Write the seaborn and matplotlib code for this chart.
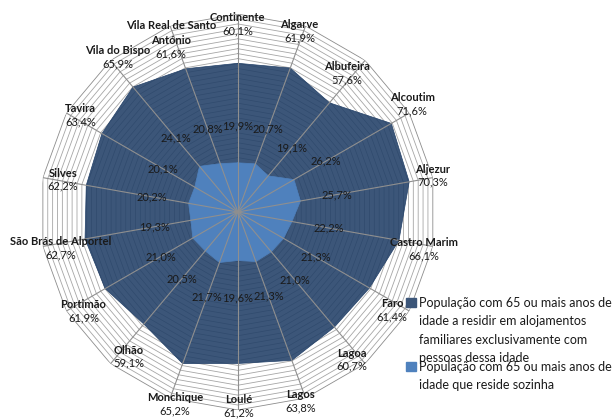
import numpy as np
import seaborn as sns
import matplotlib.pyplot as plt
from matplotlib.patches import Rectangle

# categorias (sentido dos ponteiros do relógio, a partir do topo)
categorias = ['Continente', 'Algarve', 'Albufeira', 'Alcoutim', 'Aljezur', 'Castro Marim',
              'Faro', 'Lagoa', 'Lagos', 'Loulé', 'Monchique', 'Olhão', 'Portimão',
              'São Brás de Alportel', 'Silves', 'Tavira', 'Vila do Bispo',
              'Vila Real de Santo\nAntónio']

# população com 65+ em alojamentos só com pessoas dessa idade (%)
so_idosos = [60.1, 61.9, 57.6, 71.6, 70.3, 66.1, 61.4, 60.7, 63.8, 61.2,
             65.2, 59.1, 61.9, 62.7, 62.2, 63.4, 65.9, 61.6]
# população com 65+ que reside sozinha (%)
sozinhos = [19.9, 20.7, 19.1, 26.2, 25.7, 22.2, 21.3, 21.0, 21.3, 19.6,
            21.7, 20.5, 21.0, 19.3, 20.2, 20.1, 24.1, 20.8]

legenda = ['População com 65 ou mais anos de\nidade a residir em alojamentos\nfamiliares exclusivamente com\npessoas dessa idade',
           'População com 65 ou mais anos de\nidade que reside sozinha']

# deslocamento dos rótulos exteriores (pixels, dx, dy para baixo)
desloc = [(0, 10), (-6, 5), (-18, 13), (3, -9), (0, -2), (-9, 3), (-17, -1), (-13, -4),
          (-5, 3), (1, -4), (5, 6), (18, -7), (17, 0), (18, 2), (20, 2), (14, 2),
          (7, -3), (1, 21)]

sns.set_theme(style='white')
plt.rcParams['font.family'] = ['Lato', 'DejaVu Sans']

cor_escura = '#213F67'
cor_clara = '#4F81BD'
cor_texto = '#1a1a1a'

n = len(categorias)
ang = np.linspace(0, 2 * np.pi, n, endpoint=False)
ang_f = np.append(ang, 2 * np.pi)

fig = plt.figure(figsize=(6.13, 4.19), dpi=100)
ax = fig.add_axes([0.065, 0.0215, 0.646, 0.945], projection='polar')
ax.set_theta_offset(np.pi / 2)
ax.set_theta_direction(-1)
ax.set_ylim(0, 80)
ax.set_axis_off()

# grelha poligonal (de 2 em 2)
for r in range(2, 81, 2):
    ax.plot(ang_f, [r] * (n + 1), color='#8c8c8c' if r == 80 else '#a6a6a6',
            lw=0.6, zorder=1)

v1 = so_idosos + so_idosos[:1]
v2 = sozinhos + sozinhos[:1]
ax.fill(ang_f, v1, color=cor_escura, alpha=0.88, lw=0, zorder=2)
sns.lineplot(x=ang_f, y=v1, ax=ax, color=cor_escura, lw=0.5, sort=False, zorder=2)
ax.fill(ang_f, v2, color=cor_clara, lw=0, zorder=3)
sns.lineplot(x=ang_f, y=v2, ax=ax, color=cor_clara, lw=0.5, sort=False, zorder=3)

# raios
for a in ang:
    ax.plot([a, a], [0, 80], color='#8f8f8f', lw=0.8, zorder=4)
ax.set_ylim(0, 80)

# rótulos exteriores
for a, nome, v, (dx, dy) in zip(ang, categorias, so_idosos, desloc):
    ax.annotate(nome, xy=(a, 80), xytext=(dx, -dy + 1), textcoords='offset pixels',
                ha='center', va='bottom', fontsize=8, fontweight='bold',
                color=cor_texto, linespacing=1.4, zorder=6, annotation_clip=False)
    ax.annotate(f'{v:.1f}%'.replace('.', ','), xy=(a, 80), xytext=(dx, -dy - 1),
                textcoords='offset pixels', ha='center', va='top', fontsize=8,
                color=cor_texto, zorder=6, annotation_clip=False)

# rótulos da série interior
for a, v in zip(ang, sozinhos):
    ax.annotate(f'{v:.1f}%'.replace('.', ','), xy=(a, v),
                xytext=(37 * np.sin(a), 37 * np.cos(a)), textcoords='offset pixels',
                ha='center', va='center', fontsize=8, color=cor_texto, zorder=6)

# legenda
W, H = 613, 419
for i, (cor, txt) in enumerate(zip(['#3C5679', cor_clara], legenda)):
    y_top = [297, 361][i]
    fig.patches.append(Rectangle((406 / W, 1 - (y_top + 10) / H), 9.5 / W, 9 / H,
                                 transform=fig.transFigure, color=cor))
    fig.text(419 / W, 1 - y_top / H, txt, ha='left', va='top', fontsize=9,
             color=cor_texto, linespacing=1.64)

fig.savefig('out.png', dpi=100)
